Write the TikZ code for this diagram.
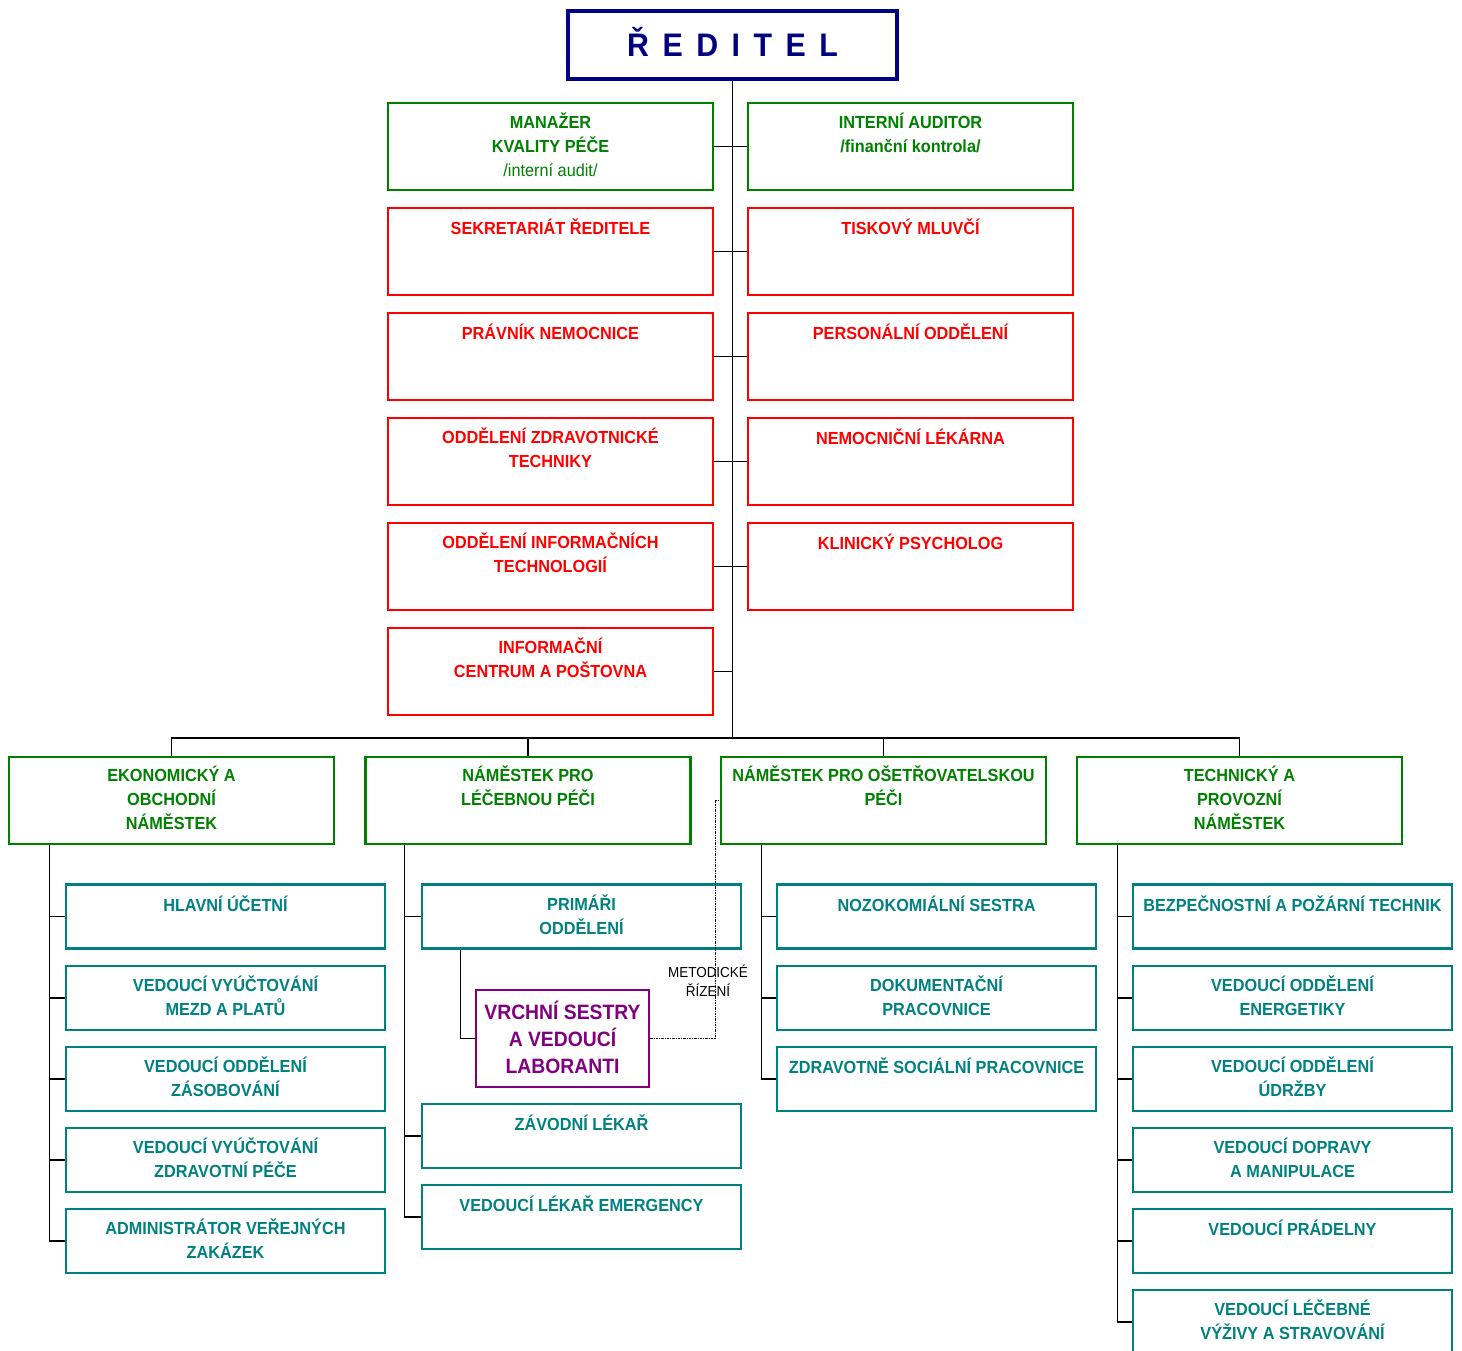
\documentclass[tikz,border=0pt]{standalone}
\usepackage{fontspec}
\setmainfont{Liberation Sans}[FakeStretch=0.93]
\usetikzlibrary{positioning}
\definecolor{modra}{RGB}{0,0,128}
\definecolor{zelena}{RGB}{0,128,0}
\definecolor{cervena}{RGB}{255,0,0}
\definecolor{tyrkys}{RGB}{0,128,128}
\definecolor{fialova}{RGB}{128,0,128}

\begin{document}
\begin{tikzpicture}[x=1pt, y=-1pt,
	box/.style={rectangle, inner sep=0pt, line width=2.7pt, minimum width=325pt, minimum height=87pt},
	zelbox/.style={box, draw=zelena},
	cerbox/.style={box, draw=cervena},
	subbox/.style={box, draw=tyrkys, minimum width=319pt, minimum height=64pt},
	popis/.style={inner sep=0pt, align=center, font=\fontsize{17.5}{24}\selectfont\bfseries, execute at begin node=\strut},
	zeltxt/.style={popis, text=zelena, below=11pt of #1.north},
	certxt/.style={popis, text=cervena, below=11pt of #1.north},
	subtxt/.style={popis, text=tyrkys, below=11pt of #1.north},
	spoj/.style={line width=1.3pt},
	metodika/.style={line width=1pt, dash pattern=on 2.5pt off 1pt on 1pt off 1pt}
	]
	\useasboundingbox (0,0) rectangle (1462,1351);

	% reditel
	\node[rectangle, draw=modra, line width=4.5pt, minimum width=329pt, minimum height=68pt, inner sep=0pt,
		text=modra, font=\fontsize{32.6}{36}\selectfont\bfseries, text height=23.3pt, text depth=0pt] (red) at (732.5,45)
		{Ř\hspace{13.5pt}E\hspace{13.5pt}D\hspace{13.5pt}I\hspace{13.5pt}T\hspace{13.5pt}E\hspace{13.5pt}L};
	\coordinate (bus) at (732.5,738);

	% stab reditele
	\node[zelbox] (mkp) at (550.5,146.5) {};
	\node[zeltxt=mkp] (mkp-t) {MANAŽER\\KVALITY PÉČE\\{\mdseries /interní audit/}};
	\node[zelbox] (ia) at (910.5,146.5) {};
	\node[zeltxt=ia] (ia-t) {INTERNÍ AUDITOR\\/finanční kontrola/};
	\node[cerbox] (sek) at (550.5,251.5) {};
	\node[certxt=sek] (sek-t) {SEKRETARIÁT ŘEDITELE};
	\node[cerbox] (tm) at (910.5,251.5) {};
	\node[certxt=tm] (tm-t) {TISKOVÝ MLUVČÍ};
	\node[cerbox] (prav) at (550.5,356.5) {};
	\node[certxt=prav] (prav-t) {PRÁVNÍK NEMOCNICE};
	\node[cerbox] (pers) at (910.5,356.5) {};
	\node[certxt=pers] (pers-t) {PERSONÁLNÍ ODDĚLENÍ};
	\node[cerbox] (ozt) at (550.5,461.5) {};
	\node[certxt=ozt] (ozt-t) {ODDĚLENÍ ZDRAVOTNICKÉ\\TECHNIKY};
	\node[cerbox] (lek) at (910.5,461.5) {};
	\node[certxt=lek] (lek-t) {NEMOCNIČNÍ LÉKÁRNA};
	\node[cerbox] (oit) at (550.5,566.5) {};
	\node[certxt=oit] (oit-t) {ODDĚLENÍ INFORMAČNÍCH\\TECHNOLOGIÍ};
	\node[cerbox] (psy) at (910.5,566.5) {};
	\node[certxt=psy] (psy-t) {KLINICKÝ PSYCHOLOG};
	\node[cerbox] (icp) at (550.5,671.5) {};
	\node[certxt=icp] (icp-t) {INFORMAČNÍ\\CENTRUM A POŠTOVNA};

	% namestci
	\node[zelbox] (eon) at (171.5,800.5) {};
	\node[zeltxt=eon, below=10pt of eon.north] (eon-t) {EKONOMICKÝ A\\OBCHODNÍ\\NÁMĚSTEK};
	\node[zelbox] (nlp) at (528,800.5) {};
	\node[zeltxt=nlp, below=10pt of nlp.north] (nlp-t) {NÁMĚSTEK PRO\\LÉČEBNOU PÉČI};
	\node[zelbox] (nop) at (883.5,800.5) {};
	\node[zeltxt=nop, below=10pt of nop.north] (nop-t) {NÁMĚSTEK PRO OŠETŘOVATELSKOU\\PÉČI};
	\node[zelbox] (tpn) at (1239.5,800.5) {};
	\node[zeltxt=tpn, below=10pt of tpn.north] (tpn-t) {TECHNICKÝ A\\PROVOZNÍ\\NÁMĚSTEK};

	% ekonomicky usek
	\node[subbox] (hu) at (225.5,916.5) {};
	\node[subtxt=hu] (hu-t) {HLAVNÍ ÚČETNÍ};
	\node[subbox] (vmz) at (225.5,998) {};
	\node[subtxt=vmz] (vmz-t) {VEDOUCÍ VYÚČTOVÁNÍ\\MEZD A PLATŮ};
	\node[subbox] (voz) at (225.5,1079) {};
	\node[subtxt=voz] (voz-t) {VEDOUCÍ ODDĚLENÍ\\ZÁSOBOVÁNÍ};
	\node[subbox] (vzp) at (225.5,1160) {};
	\node[subtxt=vzp] (vzp-t) {VEDOUCÍ VYÚČTOVÁNÍ\\ZDRAVOTNÍ PÉČE};
	\node[subbox] (avz) at (225.5,1241) {};
	\node[subtxt=avz] (avz-t) {ADMINISTRÁTOR VEŘEJNÝCH\\ZAKÁZEK};

	% lecebny usek
	\node[subbox] (pri) at (581.5,916.5) {};
	\node[subtxt=pri] (pri-t) {PRIMÁŘI\\ODDĚLENÍ};
	\node[rectangle, draw=fialova, line width=2.7pt, inner sep=0pt, minimum width=173pt, minimum height=97pt] (vs) at (562.5,1038.5) {};
	\node[popis, text=fialova, font=\fontsize{20.8}{27}\selectfont\bfseries, below=12pt of vs.north] (vs-t) {VRCHNÍ SESTRY\\A VEDOUCÍ\\LABORANTI};
	\node[subbox] (zl) at (581.5,1136) {};
	\node[subtxt=zl] (zl-t) {ZÁVODNÍ LÉKAŘ};
	\node[subbox] (vle) at (581.5,1217) {};
	\node[subtxt=vle] (vle-t) {VEDOUCÍ LÉKAŘ EMERGENCY};

	% osetrovatelsky usek
	\node[subbox] (ns) at (936.5,916.5) {};
	\node[subtxt=ns] (ns-t) {NOZOKOMIÁLNÍ SESTRA};
	\node[subbox] (dp) at (936.5,998) {};
	\node[subtxt=dp] (dp-t) {DOKUMENTAČNÍ\\PRACOVNICE};
	\node[subbox] (zsp) at (936.5,1079) {};
	\node[subtxt=zsp] (zsp-t) {ZDRAVOTNĚ SOCIÁLNÍ PRACOVNICE};

	% technicky usek
	\node[subbox] (bpt) at (1292.5,916.5) {};
	\node[subtxt=bpt] (bpt-t) {BEZPEČNOSTNÍ A POŽÁRNÍ TECHNIK};
	\node[subbox] (voe) at (1292.5,998) {};
	\node[subtxt=voe] (voe-t) {VEDOUCÍ ODDĚLENÍ\\ENERGETIKY};
	\node[subbox] (vou) at (1292.5,1079) {};
	\node[subtxt=vou] (vou-t) {VEDOUCÍ ODDĚLENÍ\\ÚDRŽBY};
	\node[subbox] (vdm) at (1292.5,1160) {};
	\node[subtxt=vdm] (vdm-t) {VEDOUCÍ DOPRAVY\\A MANIPULACE};
	\node[subbox] (vp) at (1292.5,1241) {};
	\node[subtxt=vp] (vp-t) {VEDOUCÍ PRÁDELNY};
	\node[subbox] (vlv) at (1292.5,1322) {};
	\node[subtxt=vlv] (vlv-t) {VEDOUCÍ LÉČEBNÉ\\VÝŽIVY A STRAVOVÁNÍ};

	% spojnice
	\draw[spoj] (red.south) -- (bus);
	\draw[spoj] (mkp.east) -- (ia.west);
	\draw[spoj] (sek.east) -- (tm.west);
	\draw[spoj] (prav.east) -- (pers.west);
	\draw[spoj] (ozt.east) -- (lek.west);
	\draw[spoj] (oit.east) -- (psy.west);
	\draw[spoj] (icp.east) -- (icp.east -| bus);
	\draw[spoj] (eon.north) |- (bus);
	\draw[spoj] (nlp.north) |- (bus);
	\draw[spoj] (nop.north) |- (bus);
	\draw[spoj] (tpn.north) |- (bus);

	\draw[spoj] ([xshift=41.5pt]eon.south west) |- (hu.west);
	\draw[spoj] ([xshift=41.5pt]eon.south west) |- (vmz.west);
	\draw[spoj] ([xshift=41.5pt]eon.south west) |- (voz.west);
	\draw[spoj] ([xshift=41.5pt]eon.south west) |- (vzp.west);
	\draw[spoj] ([xshift=41.5pt]eon.south west) |- (avz.west);

	\draw[spoj] ([xshift=40.5pt]nlp.south west) |- (pri.west);
	\draw[spoj] ([xshift=40.5pt]nlp.south west) |- (zl.west);
	\draw[spoj] ([xshift=40.5pt]nlp.south west) |- (vle.west);
	\draw[spoj] ([xshift=39.5pt]pri.south west) |- (vs.west);

	\draw[spoj] ([xshift=41.5pt]nop.south west) |- (ns.west);
	\draw[spoj] ([xshift=41.5pt]nop.south west) |- (dp.west);
	\draw[spoj] ([xshift=41.5pt]nop.south west) |- (zsp.west);

	\draw[spoj] ([xshift=41.5pt]tpn.south west) |- (bpt.west);
	\draw[spoj] ([xshift=41.5pt]tpn.south west) |- (voe.west);
	\draw[spoj] ([xshift=41.5pt]tpn.south west) |- (vou.west);
	\draw[spoj] ([xshift=41.5pt]tpn.south west) |- (vdm.west);
	\draw[spoj] ([xshift=41.5pt]tpn.south west) |- (vp.west);
	\draw[spoj] ([xshift=41.5pt]tpn.south west) |- (vlv.west);

	% metodicke rizeni
	\draw[metodika] (vs.east) -| ([xshift=-4.5pt]nop.west) -- (nop.west);
	\node[inner sep=0pt, align=center, font=\fontsize{14.5}{19}\selectfont] (mr) at (708,981.2) {METODICKÉ\\ŘÍZENÍ};
\end{tikzpicture}
\end{document}
